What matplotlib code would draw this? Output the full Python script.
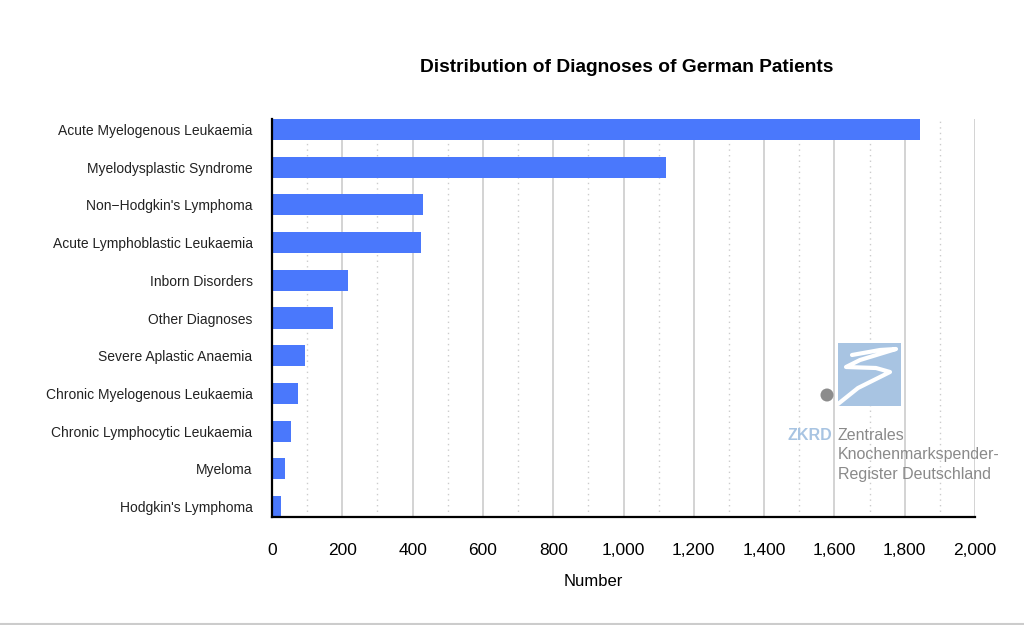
import matplotlib
matplotlib.use("Agg")
import matplotlib.pyplot as plt
from matplotlib.ticker import MultipleLocator, FuncFormatter
from matplotlib.patches import Rectangle, Circle

plt.rcParams["font.family"] = ["Liberation Sans", "DejaVu Sans"]

# Données
diagnoses = [
    "Acute Myelogenous Leukaemia",
    "Myelodysplastic Syndrome",
    "Non\u2212Hodgkin's Lymphoma",
    "Acute Lymphoblastic Leukaemia",
    "Inborn Disorders",
    "Other Diagnoses",
    "Severe Aplastic Anaemia",
    "Chronic Myelogenous Leukaemia",
    "Chronic Lymphocytic Leukaemia",
    "Myeloma",
    "Hodgkin's Lymphoma",
]
patients = [1843, 1121, 430, 425, 217, 174, 93, 73, 53, 37, 27]

title = "Distribution of Diagnoses of German Patients"
xlabel = "Number"

W, H = 1024, 625
fig = plt.figure(figsize=(W / 100, H / 100), dpi=100)
ax = fig.add_axes([272 / W, 1 - 517 / H, (975 - 272) / W, (517 - 119) / H])

bar_h = 0.56
ypos = list(range(len(diagnoses)))
ax.barh(ypos, patients, height=bar_h, color="#4a78fc", zorder=3)
ax.set_ylim(len(diagnoses) - 1 + bar_h / 2, -bar_h / 2)
ax.set_xlim(0, 2000)
ax.set_yticks(ypos)
ax.set_yticklabels(diagnoses, fontsize=10, color="#222222")

ax.xaxis.set_major_locator(MultipleLocator(200))
ax.xaxis.set_minor_locator(MultipleLocator(100))
ax.xaxis.set_major_formatter(FuncFormatter(lambda v, p: f"{int(v):,}"))
ax.grid(axis="x", which="major", color="#cccccc", lw=1.2, zorder=0)
ax.grid(axis="x", which="minor", color="#cccccc", lw=1, ls=(0, (1, 3)), zorder=0)
ax.tick_params(axis="x", which="both", length=0, pad=19, labelsize=12.5)
ax.tick_params(axis="y", length=0, pad=14)

for s in ("top", "right"):
    ax.spines[s].set_visible(False)
for s in ("left", "bottom"):
    ax.spines[s].set_color("black")
    ax.spines[s].set_linewidth(1.6)
    ax.spines[s].set_zorder(4)

fig.text(627 / W, 1 - 68 / H, title, ha="center", va="center",
         fontsize=13.8, fontweight="bold")
fig.text(593 / W, 1 - 581 / H, xlabel, ha="center", va="center", fontsize=12)

# Logo ZKRD (décor, en coordonnées pixels)
ov = fig.add_axes([0, 0, 1, 1], zorder=10)
ov.set_xlim(0, W)
ov.set_ylim(H, 0)
ov.axis("off")
ov.add_patch(Rectangle((838, 343), 63, 63, facecolor="#a8c4e2", edgecolor="none"))
squiggle_x = [852, 880, 896, 860, 846, 876, 890, 858, 838]
squiggle_y = [355, 350, 349, 360, 367, 368, 372, 388, 404]
ov.plot(squiggle_x, squiggle_y, color="white", lw=3, solid_capstyle="round",
        solid_joinstyle="round")
ov.add_patch(Circle((827, 395), 6.5, facecolor="#8c8c8c", edgecolor="none"))
ov.text(832, 436, "ZKRD", ha="right", va="center", fontsize=11.5,
        fontweight="bold", color="#a8c4e2")
for i, line in enumerate(["Zentrales", "Knochenmarkspender-", "Register Deutschland"]):
    ov.text(838, 436 + i * 19, line, ha="left", va="center", fontsize=11.5,
            color="#8a8a8a")
ov.plot([0, W], [623.5, 623.5], color="#cccccc", lw=1.5)

fig.savefig("out.png", dpi=100, facecolor="white")
